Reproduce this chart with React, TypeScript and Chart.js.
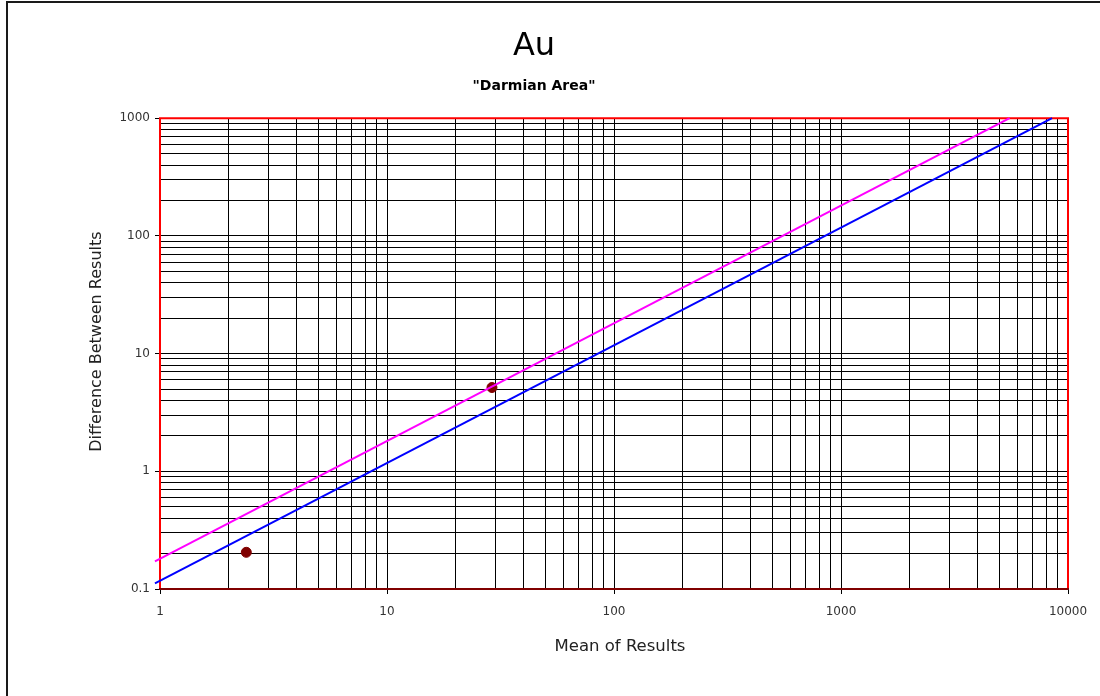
import React, { useEffect, useRef } from "react";
import { Chart, registerables } from "chart.js";

Chart.register(...registerables);

const chartTitle = "Au";
const chartSubtitle = '"Darmian Area"';
const xAxisTitle = "Mean of Results";
const yAxisTitle = "Difference Between Results";

// Observed sample points
const pointX = [2.4, 29];
const pointY = [0.205, 5.15];

// Upper (magenta) precision line endpoints
const upperLineX = [0.95, 5530];
const upperLineY = [0.172, 1000];

// Lower (blue) precision line endpoints
const lowerLineX = [0.95, 8510];
const lowerLineY = [0.1116, 1000];

// Axis decades (labelled ticks) and minor multipliers
const xDecades = [1, 10, 100, 1000, 10000];
const yDecades = [0.1, 1, 10, 100, 1000];
const minorSteps = [1, 2, 3, 4, 5, 6, 7, 8, 9];

const clean = (v: number) => Number(v.toPrecision(6));

function buildTicks(decades: number[]) {
  const out: number[] = [];
  decades.forEach((d, i) => {
    if (i === decades.length - 1) {
      out.push(d);
    } else {
      minorSteps.forEach((m) => out.push(clean(d * m)));
    }
  });
  return out;
}

const xTickValues = buildTicks(xDecades);
const yTickValues = buildTicks(yDecades);

const isDecade = (decades: number[], v: number) =>
  decades.some((d) => Math.abs(d - v) / d < 1e-6);

const FONT = "'DejaVu Sans', Verdana, sans-serif";

const framePlugin = {
  id: "framePlugin",
  beforeDraw(chart: any) {
    const ctx = chart.ctx;
    ctx.save();
    ctx.fillStyle = "#ffffff";
    ctx.fillRect(0, 0, chart.width, chart.height);
    ctx.fillStyle = "#1a1a1a";
    ctx.fillRect(6, 1, 2, chart.height);
    ctx.fillRect(6, 1, chart.width, 2);
    ctx.restore();
  },
  beforeDatasetsDraw(chart: any) {
    const { ctx, chartArea } = chart;
    const { left, right, top, bottom } = chartArea;
    ctx.save();
    ctx.lineWidth = 2;
    ctx.strokeStyle = "#ff0000";
    ctx.beginPath();
    ctx.moveTo(left, bottom);
    ctx.lineTo(left, top);
    ctx.lineTo(right, top);
    ctx.lineTo(right, bottom);
    ctx.stroke();
    ctx.strokeStyle = "#800000";
    ctx.beginPath();
    ctx.moveTo(left - 1, bottom);
    ctx.lineTo(right + 1, bottom);
    ctx.stroke();
    ctx.restore();
  },
  afterDraw(chart: any) {
    const { ctx, chartArea } = chart;
    ctx.save();
    ctx.fillStyle = "#222";
    ctx.textAlign = "center";
    ctx.textBaseline = "middle";
    ctx.font = `16.5px ${FONT}`;
    ctx.fillText(xAxisTitle, (chartArea.left + chartArea.right) / 2 + 6, 647);
    ctx.font = `16px ${FONT}`;
    ctx.translate(97, (chartArea.top + chartArea.bottom) / 2 - 12);
    ctx.rotate(-Math.PI / 2);
    ctx.fillText(yAxisTitle, 0, 0);
    ctx.restore();
  },
};

export default function App() {
  const canvasRef = useRef<HTMLCanvasElement | null>(null);

  useEffect(() => {
    if (!canvasRef.current) return;
    const chart = new Chart(canvasRef.current, {
      type: "scatter",
      data: {
        datasets: [
          {
            label: "Upper",
            type: "line",
            data: upperLineX.map((x, i) => ({ x, y: upperLineY[i] })),
            borderColor: "#ff00ff",
            borderWidth: 2,
            pointRadius: 0,
            fill: false,
            clip: false as any,
          },
          {
            label: "Lower",
            type: "line",
            data: lowerLineX.map((x, i) => ({ x, y: lowerLineY[i] })),
            borderColor: "#0000ff",
            borderWidth: 2,
            pointRadius: 0,
            fill: false,
            clip: false as any,
          },
          {
            label: "Samples",
            data: pointX.map((x, i) => ({ x, y: pointY[i] })),
            backgroundColor: "#800000",
            borderColor: "#800000",
            pointRadius: 5,
            pointHoverRadius: 5,
          },
        ],
      },
      options: {
        responsive: false,
        animation: false,
        layout: { padding: { left: 0, right: 32, top: 0, bottom: 0 } },
        plugins: {
          legend: { display: false },
          tooltip: { enabled: false },
          title: {
            display: true,
            text: chartTitle,
            color: "#000",
            font: { family: FONT, size: 32, weight: "normal" },
            padding: { top: 27, bottom: 0 },
          },
          subtitle: {
            display: true,
            text: chartSubtitle,
            color: "#000",
            font: { family: FONT, size: 14, weight: "bold" },
            padding: { top: 13, bottom: 23 },
          },
        },
        scales: {
          x: {
            type: "logarithmic",
            min: 1,
            max: 10000,
            afterBuildTicks: (scale: any) => {
              scale.ticks = xTickValues.map((v) => ({ value: v, major: isDecade(xDecades, v) }));
            },
            afterFit: (scale: any) => {
              scale.height = 107;
            },
            ticks: {
              autoSkip: false,
              maxRotation: 0,
              minRotation: 0,
              padding: 11,
              color: "#333",
              font: { family: FONT, size: 12 },
              callback: (value: any) => (isDecade(xDecades, Number(value)) ? String(clean(Number(value))) : ""),
            },
            grid: {
              color: "#000",
              lineWidth: 1,
              tickLength: 5,
              tickColor: (ctx: any) => (ctx.tick && isDecade(xDecades, ctx.tick.value) ? "#000" : "rgba(0,0,0,0)"),
            },
            border: { display: false },
            title: { display: false },
          },
          y: {
            type: "logarithmic",
            min: 0.1,
            max: 1000,
            afterBuildTicks: (scale: any) => {
              scale.ticks = yTickValues.map((v) => ({ value: v, major: isDecade(yDecades, v) }));
            },
            afterFit: (scale: any) => {
              scale.width = 160;
            },
            ticks: {
              autoSkip: false,
              padding: 5,
              color: "#333",
              font: { family: FONT, size: 12 },
              callback: (value: any) => (isDecade(yDecades, Number(value)) ? String(clean(Number(value))) : ""),
            },
            grid: {
              color: "#000",
              lineWidth: 1,
              tickLength: 5,
              tickColor: (ctx: any) => (ctx.tick && isDecade(yDecades, ctx.tick.value) ? "#000" : "rgba(0,0,0,0)"),
            },
            border: { display: false },
            title: { display: false },
          },
        },
      },
      plugins: [framePlugin],
    } as any);
    return () => chart.destroy();
  }, []);

  return (
    <div style={{ position: "fixed", left: 0, top: 0, width: 1100, height: 696, overflow: "hidden", background: "#fff" }}>
      <canvas ref={canvasRef} width={1100} height={696} style={{ display: "block", width: 1100, height: 696 }} />
    </div>
  );
}
